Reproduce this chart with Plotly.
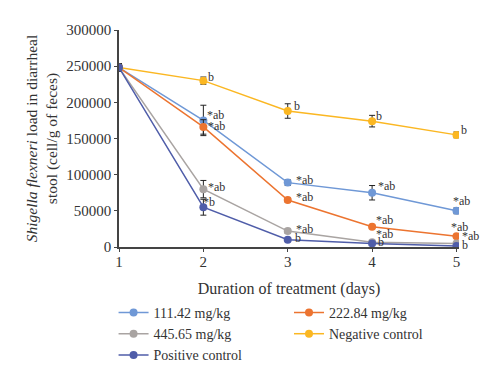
import plotly.graph_objects as go

days = [1, 2, 3, 4, 5]
series_names = ["111.42 mg/kg", "222.84 mg/kg", "445.65 mg/kg", "Negative control", "Positive control"]
v_111 = [248000, 175000, 89000, 75000, 50000]
v_222 = [248000, 166000, 65000, 28000, 15000]
v_445 = [248000, 80000, 22000, 6500, 5000]
v_neg = [248000, 230000, 188000, 174000, 155000]
v_pos = [248000, 55000, 10000, 5000, 1500]
e_111 = [5000, 21000, 4000, 10000, 4000]
e_222 = [5000, 10000, 3000, 2000, 2000]
e_445 = [5000, 12000, 3000, 1500, 1500]
e_neg = [5000, 5000, 10000, 8000, 4000]
e_pos = [5000, 11000, 2000, 1500, 1000]
l_111 = ["", "*ab", "*ab", "*ab", "*ab"]
l_222 = ["", "*ab", "*ab", "*ab", "*ab"]
l_445 = ["", "*ab", "*ab", "*ab", "*ab"]
l_neg = ["", "b", "b", "b", "b"]
l_pos = ["", "*b", "b", "b", "b"]

colors = ["#6f98d6", "#ec7430", "#a9a4a2", "#fbb722", "#4f5da9"]
legend_ids = ["legend", "legend2", "legend", "legend2", "legend"]
values = [v_111, v_222, v_445, v_neg, v_pos]
errors = [e_111, e_222, e_445, e_neg, e_pos]
labels = [l_111, l_222, l_445, l_neg, l_pos]
# label offsets (xshift, yshift) per series per day, in pixels
shifts = [
    [(0, 0), (2, 5), (6, 3), (4, 7), (-5, 10)],
    [(0, 0), (3, 1), (6, 3), (2, 7), (-7, 9)],
    [(0, 0), (3, 2), (6, 2), (2, 8), (4, 7)],
    [(0, 0), (3, 4), (4, 5), (2, 5), (3, 5)],
    [(0, 0), (-2, 5), (5, 2), (4, 1), (4, 1)],
]

FONT = "Liberation Serif"
fig = go.Figure()
for name, c, v, e, lg in zip(series_names, colors, values, errors, legend_ids):
    fig.add_trace(go.Scatter(
        x=days, y=v, name=name, mode="lines+markers", legend=lg,
        line=dict(color=c, width=1.5),
        marker=dict(color=c, size=8, symbol="circle"),
        error_y=dict(type="data", array=e, color="#222222", thickness=1, width=3),
    ))

annotations = []
for v, lab, sh in zip(values, labels, shifts):
    for d, val, t, (xs, ys) in zip(days, v, lab, sh):
        if not t:
            continue
        annotations.append(dict(
            x=d, y=val, text=t, showarrow=False, xanchor="left", yanchor="middle",
            xshift=xs, yshift=ys, font=dict(family=FONT, size=12, color="#333333"),
        ))

leg_common = dict(
    orientation="v", xanchor="left", yanchor="top",
    font=dict(family=FONT, size=14, color="#333333"),
    tracegroupgap=0, itemwidth=30, bgcolor="rgba(0,0,0,0)",
)
# the page body adds an 8px offset, so the figure is 492x376
fig.update_layout(
    width=492, height=376,
    margin=dict(l=111, r=41, t=22, b=137, autoexpand=False),
    paper_bgcolor="white", plot_bgcolor="white",
    font=dict(family=FONT, size=13, color="#333333"),
    showlegend=True,
    legend=dict(x=-0.016, y=-0.23, **leg_common),
    legend2=dict(x=0.50, y=-0.23, **leg_common),
    annotations=annotations,
)
fig.update_xaxes(
    range=[1, 5.03], tickvals=days, ticks="outside", ticklen=3, tickcolor="#444444",
    showline=True, linecolor="#444444", linewidth=1.5, showgrid=False, zeroline=False,
    title=dict(text="Duration of treatment (days)", font=dict(family=FONT, size=16), standoff=14),
    tickfont=dict(family=FONT, size=15), automargin=True, ticklabelstandoff=-3,
)
fig.update_yaxes(
    range=[0, 300000], tickvals=[0, 50000, 100000, 150000, 200000, 250000, 300000],
    tickformat="d", ticks="outside", ticklen=3, tickcolor="#444444",
    showline=True, linecolor="#444444", linewidth=1.5, showgrid=False, zeroline=False,
    title=dict(text="<i>Shigella flexneri</i> load in diarrheal<br>stool (cell/g of feces)",
               font=dict(family=FONT, size=15.5), standoff=5),
    tickfont=dict(family=FONT, size=15), automargin=True,
)
fig.write_html("out.html")
